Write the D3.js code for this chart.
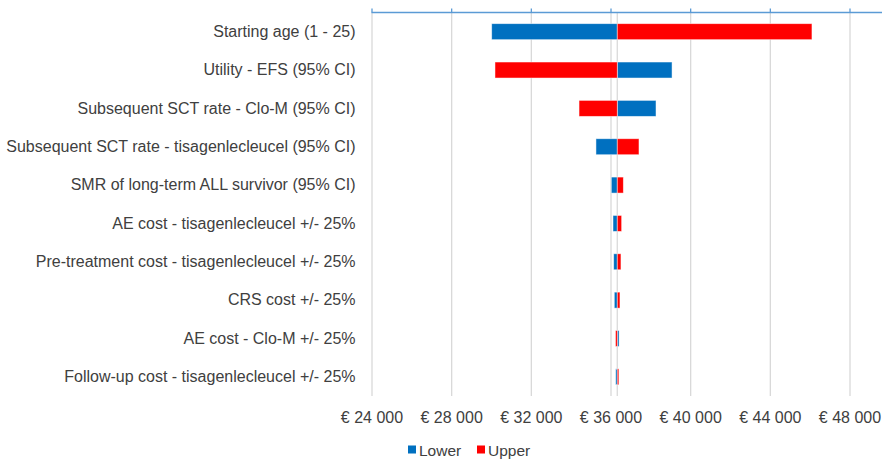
<!DOCTYPE html>
<html>
<head>
<meta charset="utf-8">
<script src="https://cdn.jsdelivr.net/npm/d3@7"></script>
<style>
  html, body { margin: 0; padding: 0; background: #fff; }
  svg { display: block; font-family: "Liberation Sans", Arial, sans-serif; }
</style>
</head>
<body>
<svg id="chart" width="882" height="461"></svg>
<script>
const categories = [
  "Starting age (1 - 25)",
  "Utility - EFS (95% CI)",
  "Subsequent SCT rate - Clo-M (95% CI)",
  "Subsequent SCT rate - tisagenlecleucel (95% CI)",
  "SMR of long-term ALL survivor (95% CI)",
  "AE cost - tisagenlecleucel +/- 25%",
  "Pre-treatment cost - tisagenlecleucel +/- 25%",
  "CRS cost +/- 25%",
  "AE cost - Clo-M +/- 25%",
  "Follow-up cost - tisagenlecleucel +/- 25%"
];
const baseValue = 36340;
const lowerValues = [30035, 39090, 38285, 35270, 36040, 36125, 36160, 36190, 36430, 36260];
const upperValues = [46115, 30200, 34420, 37430, 36645, 36560, 36525, 36475, 36250, 36420];
const tickValues = [24000, 28000, 32000, 36000, 40000, 44000, 48000];
const seriesNames = ["Lower", "Upper"];
const seriesColors = ["#0070C0", "#FF0000"];

const svg = d3.select("#chart");
const plotTop = 12.5, plotBottom = 396;
const x = d3.scaleLinear().domain([24000, 48000]).range([371.5, 849.5]);
const y = d3.scaleBand().domain(categories).range([plotTop, plotBottom]);
const barH = 16;
const textColor = "#404040";

const loc = d3.formatLocale({decimal: ",", thousands: " ", grouping: [3], currency: ["€ ", ""]});
const fmt = loc.format("$,.0f");

// gridlines
const grid = svg.append("g").attr("transform", `translate(0,${plotBottom})`)
  .call(d3.axisBottom(x).tickValues(tickValues).tickSize(-(plotBottom - plotTop)).tickFormat(""));
grid.select(".domain").remove();
grid.selectAll(".tick line").attr("stroke", "#d9d9d9").attr("stroke-width", 1.3);

// base (category axis) line
svg.append("line")
  .attr("x1", x(baseValue)).attr("x2", x(baseValue))
  .attr("y1", plotTop).attr("y2", plotBottom)
  .attr("stroke", "#d9d9d9").attr("stroke-width", 1.3);

// bars
const rows = categories.map((c, i) => ({c, lo: lowerValues[i], up: upperValues[i]}));
const g = svg.append("g");
[["lo", 0], ["up", 1]].forEach(([k, si]) => {
  g.selectAll(".bar-" + k).data(rows).join("rect")
    .attr("class", "bar-" + k)
    .attr("x", d => x(Math.min(baseValue, d[k])))
    .attr("width", d => Math.abs(x(d[k]) - x(baseValue)))
    .attr("y", d => y(d.c) + (y.bandwidth() - barH) / 2)
    .attr("height", barH)
    .attr("fill", seriesColors[si])
    .attr("stroke", "#ffffff").attr("stroke-opacity", 0.6).attr("stroke-width", 0.8);
});

// top axis (blue)
const topAxis = svg.append("g").attr("transform", `translate(0,${plotTop})`)
  .call(d3.axisTop(x).tickValues(tickValues).tickSize(4).tickSizeOuter(0).tickFormat(""));
topAxis.select(".domain").attr("d", `M${x(24000)},0H882`).attr("stroke", "#5B9BD5").attr("stroke-width", 1.5);
topAxis.selectAll(".tick line").attr("stroke", "#5B9BD5").attr("stroke-width", 1.3);

// bottom tick labels
const bAxis = svg.append("g").attr("transform", `translate(0,${plotBottom})`)
  .call(d3.axisBottom(x).tickValues(tickValues).tickSize(0).tickPadding(16).tickFormat(fmt));
bAxis.select(".domain").remove();
bAxis.selectAll("text").attr("fill", textColor).style("font-size", "16px")
  .style("font-family", '"Liberation Sans", Arial, sans-serif');

// category labels
const lAxis = svg.append("g").attr("transform", `translate(${x(24000)},0)`)
  .call(d3.axisLeft(y).tickSize(0).tickPadding(16));
lAxis.select(".domain").remove();
lAxis.selectAll("text").attr("fill", textColor).style("font-size", "16px")
  .style("font-family", '"Liberation Sans", Arial, sans-serif');

// legend
const legend = svg.append("g");
const legX = [408, 477];
seriesNames.forEach((n, i) => {
  legend.append("rect").attr("x", legX[i]).attr("y", 445.5).attr("width", 8).attr("height", 8)
    .attr("fill", seriesColors[i]);
  legend.append("text").attr("x", legX[i] + 11).attr("y", 455.5)
    .attr("fill", textColor).style("font-size", "15.5px").text(n);
});
</script>
</body>
</html>
